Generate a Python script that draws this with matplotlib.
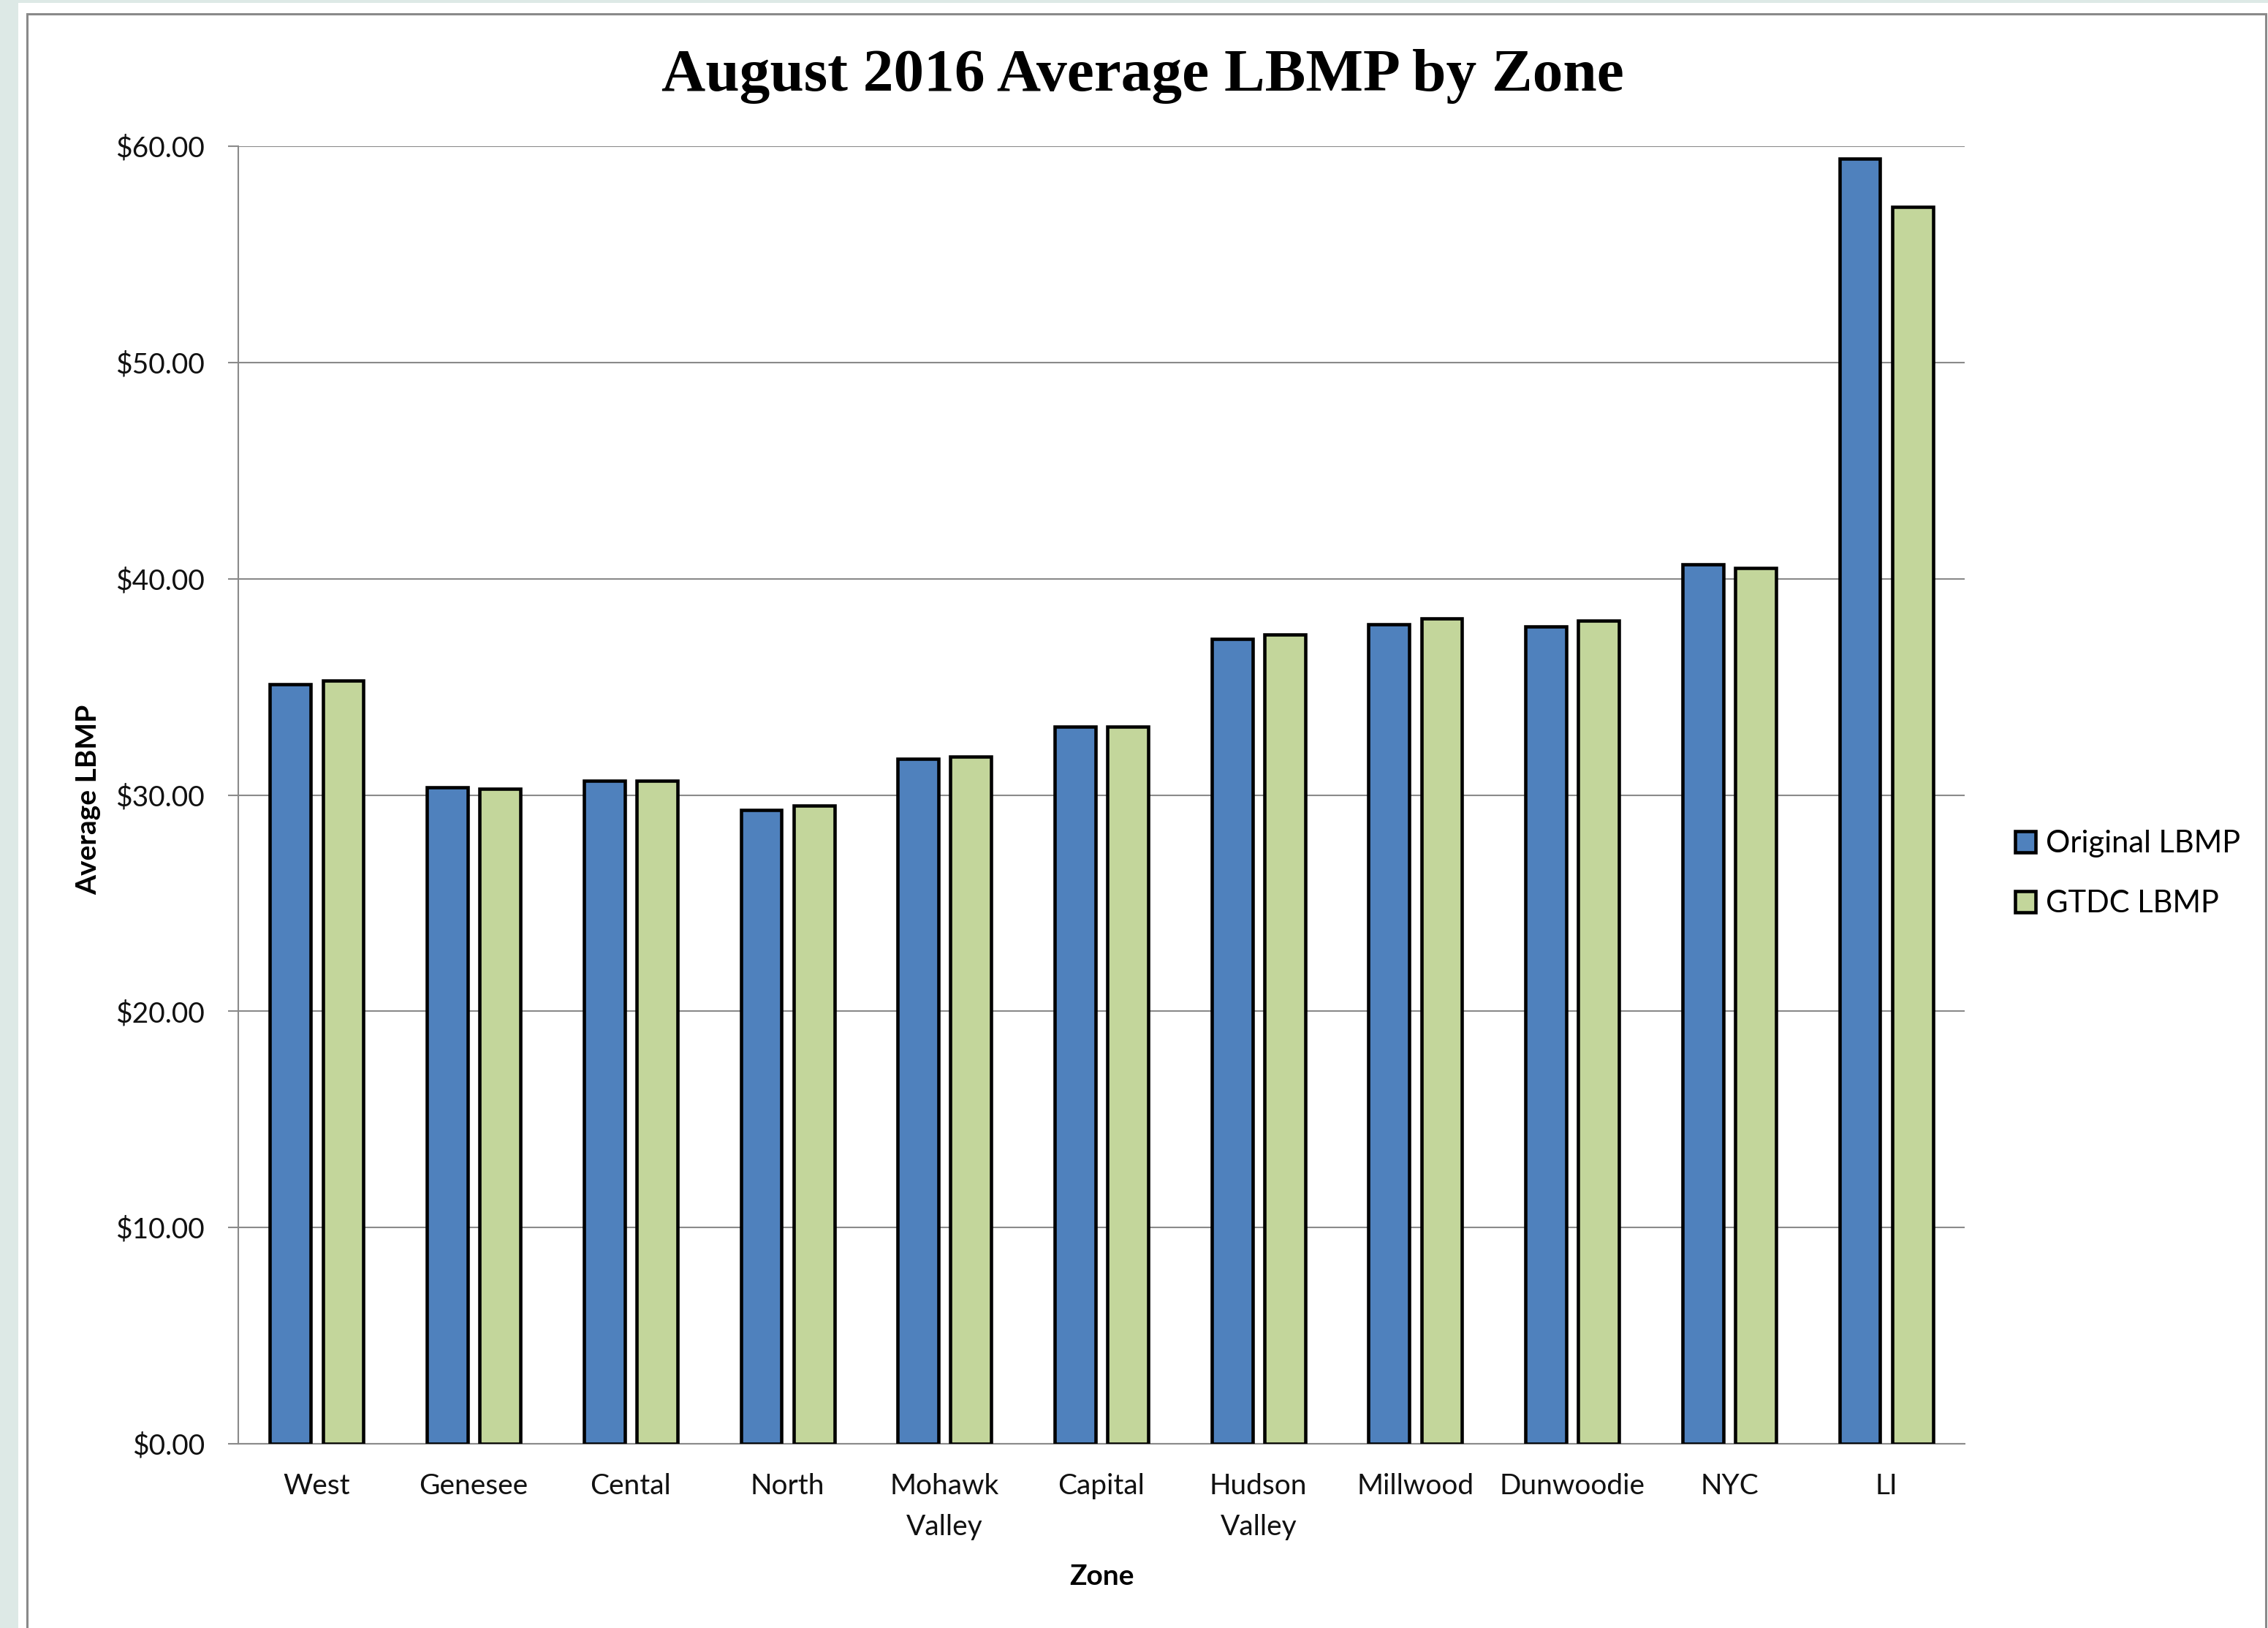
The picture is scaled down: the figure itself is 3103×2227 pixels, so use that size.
import matplotlib
matplotlib.use("Agg")
import matplotlib.pyplot as plt
from matplotlib.patches import Rectangle
import numpy as np

zones = ["West", "Genesee", "Cental", "North", "Mohawk\nValley", "Capital",
         "Hudson\nValley", "Millwood", "Dunwoodie", "NYC", "LI"]
original_lbmp = [35.12, 30.37, 30.67, 29.32, 31.69, 33.15, 37.22, 37.89, 37.78, 40.68, 59.42]
gtdc_lbmp = [35.30, 30.28, 30.67, 29.52, 31.78, 33.15, 37.41, 38.18, 38.07, 40.49, 57.19]
yticks = [0, 10, 20, 30, 40, 50, 60]
ytick_labels = ["$0.00", "$10.00", "$20.00", "$30.00", "$40.00", "$50.00", "$60.00"]

W, H = 3103, 2227
DPI = 100
fig = plt.figure(figsize=(W / DPI, H / DPI), dpi=DPI, facecolor="#dde9e6")

# white panel and border of the chart area
fig.patches.append(Rectangle((25 / W, -0.01), 1.0, 1 - 4 / H + 0.01, transform=fig.transFigure,
                             facecolor="white", edgecolor="none", zorder=-3))
fig.patches.append(Rectangle((37 / W, -0.05), (3100 - 37) / W, 1 - 19 / H + 0.05,
                             transform=fig.transFigure, facecolor="none",
                             edgecolor="#8a8a8a", linewidth=2.2, zorder=-2))

left, right, top, bottom = 326, 2688, 200, 1975
ax = fig.add_axes([left / W, 1 - bottom / H, (right - left) / W, (bottom - top) / H])
ax.set_zorder(1)
ax.set_facecolor("white")

FONT = "Lato"
TS = 28

x = np.arange(len(zones))
bw = 0.26
off = 0.168
ax.bar(x - off, original_lbmp, width=bw, color="#4F81BD", edgecolor="black",
       linewidth=3.3, label="Original LBMP", zorder=3)
ax.bar(x + off, gtdc_lbmp, width=bw, color="#C3D69B", edgecolor="black",
       linewidth=3.3, label="GTDC LBMP", zorder=3)

ax.set_xlim(-0.5, len(zones) - 0.5)
ax.set_ylim(0, 60)
ax.set_yticks(yticks)
ax.set_yticklabels(ytick_labels, fontfamily=FONT, fontsize=TS, color="#111111")
ax.set_xticks(x)
ax.set_xticklabels(zones, fontfamily=FONT, fontsize=TS, color="#111111", linespacing=1.68)
ax.tick_params(axis="y", length=10, width=1.5, color="#8a8a8a", pad=23, direction="out")
ax.tick_params(axis="x", length=0, pad=29)

ax.grid(axis="y", color="#8a8a8a", linewidth=1.5, zorder=0)
ax.set_axisbelow(True)
for s in ["top", "right"]:
    ax.spines[s].set_visible(False)
for s in ["left", "bottom"]:
    ax.spines[s].set_color("#8a8a8a")
    ax.spines[s].set_linewidth(1.5)

ax.set_ylabel("Average LBMP", fontfamily=FONT, fontsize=TS, fontweight="bold", color="black")
ax.yaxis.set_label_coords((121 - left) / (right - left), (bottom - 1094) / (bottom - top))
ax.yaxis.label.set_va("center")
ax.set_xlabel("Zone", fontfamily=FONT, fontsize=TS, fontweight="bold", color="black")
ax.xaxis.set_label_coords(0.5, (bottom - 2156) / (bottom - top))
ax.xaxis.label.set_va("center")

fig.text(1563 / W, 1 - 104 / H, "August 2016 Average LBMP by Zone", ha="center", va="center",
         fontfamily="Liberation Serif", fontweight="bold", fontsize=60, color="black")

fig.legend(loc="center left", bbox_to_anchor=(2757 / W, 1 - 1195 / H), frameon=False,
           prop={"family": FONT, "size": 30}, handlelength=0.68, handleheight=0.68,
           handletextpad=0.33, labelspacing=1.05, borderaxespad=0, borderpad=0)

fig.savefig("out.png", dpi=DPI, facecolor=fig.get_facecolor())
